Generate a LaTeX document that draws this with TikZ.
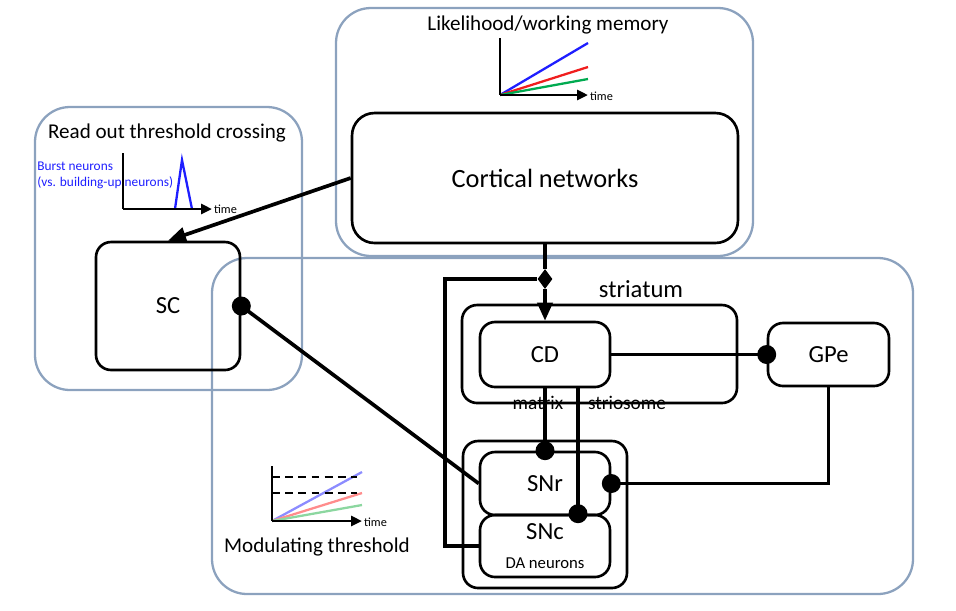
\documentclass[tikz,border=0pt]{standalone}
\usepackage{fontspec}
\setmainfont{Carlito}
\usepackage{tikz}
\usetikzlibrary{positioning,arrows.meta,shapes.geometric}
\definecolor{myframe}{RGB}{140,162,190}
\definecolor{myblue}{RGB}{30,30,255}
\definecolor{myred}{RGB}{240,30,30}
\definecolor{mygreen}{RGB}{0,170,80}
\definecolor{paleblue}{RGB}{140,140,255}
\definecolor{palered}{RGB}{255,140,140}
\definecolor{palegreen}{RGB}{140,215,160}
\tikzset{
		regionStyle/.style = {line width = 1.3pt, draw=myframe, rounded corners=0.7cm},
		boxStyle/.style = 	{line width = 1.5pt, draw, rounded corners=0.3cm, inner sep=0pt},
		edgeStyle/.style = 	{line width = 2.1pt},
		axisStyle/.style = 	{line width = 1.6pt},
		dotStyle/.style = 	{circle, fill, inner sep=0pt, minimum size=0.38cm},
		tipStyle/.style = 	{-{Triangle[length=0.36cm,width=0.3cm]}},
		axisTip/.style = 	{-{Triangle[length=0.22cm,width=0.2cm]}},
		timeLabel/.style = 	{anchor=west, inner sep=1pt, font=\fontsize{7}{8}\selectfont},
		bigText/.style = 	{font=\fontsize{14}{16}\selectfont},
		midText/.style = 	{font=\fontsize{12}{14}\selectfont},
		node distance=2.3cm
}
\begin{document}
\begin{tikzpicture}[x=0.02cm, y=-0.02cm]
  \useasboundingbox (0,0) rectangle (956,610);

  % Regions
  \draw[regionStyle] (336,8) rectangle (753,256);
  \draw[regionStyle] (35,107) rectangle (302,390);
  \draw[regionStyle] (212,258) rectangle (913,594);

  \node[midText] (titleCortex) at (548,25) {Likelihood/working memory};
  \node[midText] (titleSC) at (167,133) {Read out threshold crossing};
  \node[midText] (titleMod) at (317,547) {Modulating threshold};

  % Likelihood plot
  \foreach \col/\yend in {myblue/43, myred/67, mygreen/79}
    \draw[line width=1.3pt, \col] (500,95) -- (588,\yend);
  \draw[axisStyle] (500,38) -- (500,95);
  \draw[axisStyle, axisTip] (500,95) -- (588,95);
  \node[timeLabel] (timeA) at (588,96) {time};

  % Burst plot
  \draw[line width=1.3pt, myblue] (175,209) -- (182,160) -- (192,209);
  \draw[axisStyle] (123,153) -- (123,209);
  \draw[axisStyle, axisTip] (123,209) -- (212,209);
  \node[timeLabel] (timeB) at (212,209) {time};
  \node[anchor=west, inner sep=0pt, text=myblue, align=left, font=\fontsize{7.6}{9.2}\selectfont] (burst) at (37,175) {Burst neurons\\(vs. building-up neurons)};

  % Threshold plot
  \foreach \col/\yend in {paleblue/472, palered/493, palegreen/505}
    \draw[line width=1.3pt, \col] (272,521) -- (362,\yend);
  \foreach \yy in {477,493}
    \draw[line width=1.4pt, dash pattern=on 4.5pt off 3pt] (272,\yy) -- (357,\yy);
  \draw[axisStyle] (272,466) -- (272,521);
  \draw[axisStyle, axisTip] (272,521) -- (362,521);
  \node[timeLabel] (timeC) at (362,522) {time};

  % Boxes
  \node[boxStyle, rounded corners=0.45cm, minimum width=7.72cm, minimum height=2.6cm, font=\fontsize{15}{18}\selectfont] (cortex) at (545,178) {Cortical networks};
  \node[boxStyle, minimum width=2.88cm, minimum height=2.56cm, bigText] (sc) at (168,306) {SC};
  \node[boxStyle, minimum width=5.5cm, minimum height=1.96cm] (striatum) at (599.5,354) {};
  \node[bigText] (striatumLabel) at (641,289) {striatum};
  \node[boxStyle, minimum width=2.6cm, minimum height=1.3cm, bigText] (cd) at (545,354.5) {CD};
  \node[boxStyle, minimum width=2.42cm, minimum height=1.26cm, bigText] (gpe) at (828.5,354.5) {GPe};
  \node[font=\fontsize{11}{13}\selectfont] (matrix) at (538,403) {matrix};
  \node[font=\fontsize{11}{13}\selectfont] (striosome) at (627,403) {striosome};
  \node[boxStyle, minimum width=3.28cm, minimum height=2.94cm] (snBox) at (545,514.5) {};
  \node[boxStyle, minimum width=2.6cm, minimum height=1.26cm, bigText] (snr) at (545,483.5) {SNr};
  \node[boxStyle, minimum width=2.6cm, minimum height=1.24cm] (snc) at (545,546) {};
  \node[bigText] (sncLabel) at (545,532) {SNc};
  \node[font=\fontsize{9.5}{11}\selectfont] (daLabel) at (545,563) {DA neurons};

  % Connections
  \node[diamond, fill, inner sep=0pt, minimum width=0.3cm, minimum height=0.4cm] (branch) at (545,279) {};
  \coordinate (bend) at (445,546);
  \coordinate (strioTop) at (578,387);
  \draw[edgeStyle, tipStyle] (cortex.west) -- (sc.north);
  \draw[edgeStyle] (cortex.south) -- (branch);
  \draw[edgeStyle, tipStyle] (branch) -- (cd.north);
  \draw[edgeStyle] (branch) -| (bend) -- (snc.west);
  \draw[edgeStyle] (sc.east) -- (snr.west);
  \draw[edgeStyle] (cd.east) -- (gpe.west);
  \draw[edgeStyle] (cd.south) -- (snr.north);
  \draw[edgeStyle] (strioTop) -- (strioTop |- snc.north);
  \draw[edgeStyle] (gpe.south) |- (snr.east);

  \node[dotStyle] (scDot) at (sc.east) {};
  \node[dotStyle] (gpeDot) at (gpe.west) {};
  \node[dotStyle] (matrixDot) at (snr.north) {};
  \node[dotStyle] (strioDot) at (strioTop |- snc.north) {};
  \node[dotStyle] (snrDot) at (snr.east) {};

\end{tikzpicture}
\end{document}
